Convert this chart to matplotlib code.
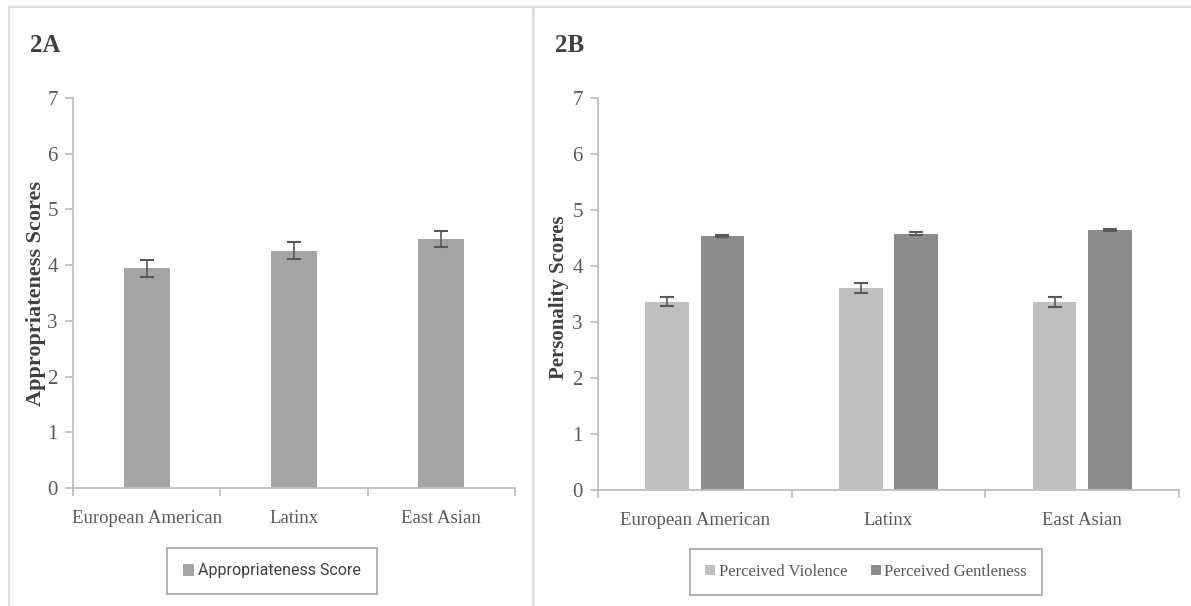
import numpy as np
import matplotlib
matplotlib.use("Agg")
import matplotlib.pyplot as plt
from matplotlib.lines import Line2D

# Data
groups = ["European American", "Latinx", "East Asian"]
appropriateness = [3.94, 4.26, 4.47]
appropriateness_err = [0.16, 0.15, 0.15]
violence = [3.36, 3.60, 3.35]
violence_err = [0.08, 0.09, 0.09]
gentleness = [4.54, 4.58, 4.64]
gentleness_err = [0.02, 0.02, 0.02]
yticks = [0, 1, 2, 3, 4, 5, 6, 7]

W, H = 1191, 606
fig = plt.figure(figsize=(W / 100, H / 100), dpi=100)

serif = "Liberation Serif"
txt_col = "#595959"
axis_col = "#bfbfbf"
err_col = "#595959"


def px_axes(left, right, top, bottom):
    return fig.add_axes([left / W, 1 - bottom / H, (right - left) / W, (bottom - top) / H])


def style_axes(ax):
    ax.set_ylim(0, 7)
    ax.set_xlim(0, 3)
    for s in ["top", "right"]:
        ax.spines[s].set_visible(False)
    ax.spines["left"].set_color(axis_col)
    ax.spines["bottom"].set_color(axis_col)
    ax.spines["left"].set_linewidth(1.3)
    ax.spines["bottom"].set_linewidth(1.3)
    ax.set_yticks(yticks)
    ax.set_yticklabels([str(t) for t in yticks], fontfamily=serif, fontsize=15, color=txt_col)
    ax.tick_params(axis="y", length=6, width=1.3, color=axis_col, pad=5)
    ax.set_xticks(np.arange(len(groups)) + 0.5)
    ax.set_xticklabels(groups, fontfamily=serif, fontsize=13.5, color=txt_col)
    ax.tick_params(axis="x", which="major", length=0, pad=16)
    ax.set_xticks(np.arange(len(groups) + 1), minor=True)
    ax.tick_params(axis="x", which="minor", length=6, width=1.3, color=axis_col)


# Panel frame lines
fig.add_artist(Line2D([9 / W, 1], [1 - 7 / H, 1 - 7 / H], color="#dedede", lw=1.5))
fig.add_artist(Line2D([9 / W, 9 / W], [0, 1 - 7 / H], color="#dedede", lw=1.5))
fig.add_artist(Line2D([533 / W, 533 / W], [0, 1 - 7 / H], color="#dedede", lw=2))

# Panel 2A
x = np.arange(len(groups)) + 0.5
axA = px_axes(73, 515, 98, 488)
style_axes(axA)
axA.bar(x, appropriateness, width=0.31, color="#a5a5a5", label="Appropriateness Score", zorder=2)
axA.errorbar(x, appropriateness, yerr=appropriateness_err, fmt="none", ecolor=err_col,
             elinewidth=1.2, capsize=5, capthick=1.5, zorder=3)
fig.text(36 / W, 1 - 293 / H, "Appropriateness Scores", fontfamily=serif, fontweight="bold",
         fontsize=16, color="#404040", rotation=90, ha="center", va="center")
fig.text(30 / W, 1 - 45 / H, "2A", fontfamily=serif, fontweight="bold", fontsize=18,
         color="#404040", va="center")
legA = axA.legend(loc="center", bbox_to_anchor=(272 / W, 1 - 571 / H), bbox_transform=fig.transFigure,
                  fancybox=False, edgecolor="#a6a6a6", framealpha=1, handlelength=0.7,
                  handleheight=0.7, handletextpad=0.25, borderpad=1.0, borderaxespad=0,
                  prop={"family": ["Roboto", "DejaVu Sans"], "size": 11.5})
legA.get_frame().set_linewidth(1.2)
for t in legA.get_texts():
    t.set_color("#404040")

# Panel 2B
bw = 0.225
gap = 0.06
axB = px_axes(598, 1179, 98, 490)
style_axes(axB)
off = (bw + gap) / 2
axB.bar(x - off, violence, width=bw, color="#bfbfbf", label="Perceived Violence", zorder=2)
axB.bar(x + off, gentleness, width=bw, color="#8c8c8c", label="Perceived Gentleness", zorder=2)
axB.errorbar(x - off, violence, yerr=violence_err, fmt="none", ecolor=err_col,
             elinewidth=1.2, capsize=5, capthick=1.5, zorder=3)
axB.errorbar(x + off, gentleness, yerr=gentleness_err, fmt="none", ecolor=err_col,
             elinewidth=1.2, capsize=5, capthick=1.5, zorder=3)
fig.text(559 / W, 1 - 297 / H, "Personality Scores", fontfamily=serif, fontweight="bold",
         fontsize=15, color="#404040", rotation=90, ha="center", va="center")
fig.text(555 / W, 1 - 45 / H, "2B", fontfamily=serif, fontweight="bold", fontsize=18,
         color="#404040", va="center")
legB = axB.legend(loc="center", bbox_to_anchor=(866 / W, 1 - 572 / H), bbox_transform=fig.transFigure,
                  ncol=2, fancybox=False, edgecolor="#a6a6a6", framealpha=1, handlelength=0.6,
                  handleheight=0.6, handletextpad=0.2, columnspacing=1.4, borderpad=0.9,
                  borderaxespad=0, prop={"family": serif, "size": 12})
legB.get_frame().set_linewidth(1.2)
for t in legB.get_texts():
    t.set_color(txt_col)

fig.savefig("out.png", dpi=100)
